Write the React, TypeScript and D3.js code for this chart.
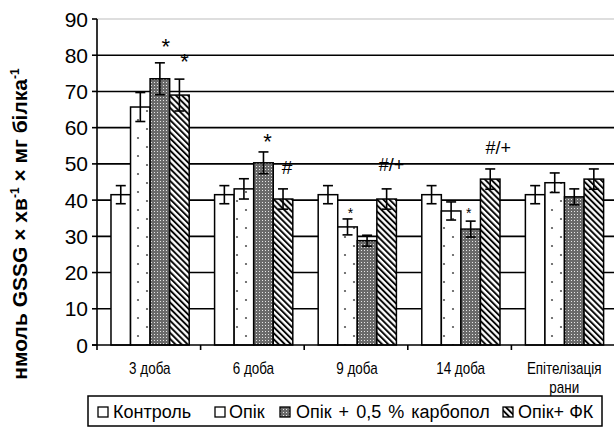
import React from "react";
import * as d3 from "d3";

const categories = ["3 доба", "6 доба", "9 доба", "14 доба", "Епітелізація рани"];
const seriesNames = ["Контроль", "Опік", "Опік + 0,5 % карбопол", "Опік+ ФК"];
const control = [41.5, 41.5, 41.5, 41.5, 41.5];
const controlErr = [2.5, 2.5, 2.5, 2.5, 2.5];
const burn = [65.7, 43.1, 32.6, 37.0, 44.8];
const burnErr = [4.0, 2.8, 2.2, 2.5, 2.7];
const carbopol = [73.5, 50.3, 28.8, 32.0, 40.9];
const carbopolErr = [4.4, 3.0, 1.5, 2.2, 2.2];
const fk = [69.0, 40.3, 40.3, 45.8, 45.8];
const fkErr = [4.4, 2.8, 2.8, 2.8, 2.8];
const yTicks = [0, 10, 20, 30, 40, 50, 60, 70, 80, 90];

// annotations: category index, series index, label
const annotations = [
  { c: 0, s: 2, t: "*", size: 22, dx: 6, dy: 21 },
  { c: 0, s: 3, t: "*", size: 22, dx: 5, dy: 22 },
  { c: 1, s: 2, t: "*", size: 22, dx: 4, dy: 15 },
  { c: 1, s: 3, t: "#", size: 19, dx: 4, dy: 22 },
  { c: 2, s: 1, t: "*", size: 14, dx: 3, dy: 9 },
  { c: 2, s: 3, t: "#/+", size: 18, dx: 5, dy: 24 },
  { c: 3, s: 2, t: "*", size: 14, dx: -2, dy: 11 },
  { c: 3, s: 3, t: "#/+", size: 18, dx: 8, dy: 21 },
];

const values = [control, burn, carbopol, fk];
const errors = [controlErr, burnErr, carbopolErr, fkErr];
const fills = ["#fff", "url(#dots)", "url(#checker)", "url(#stripes)"];

const FONT = "'Liberation Sans', Arial, sans-serif";

export default function App() {
  const W = 614, H = 428;
  const left = 97, right = 615, top = 19, bottom = 345;
  const x0 = d3.scaleBand<number>().domain(d3.range(categories.length)).range([left, right]).paddingInner(0);
  const bw = x0.bandwidth();
  const x1 = d3.scaleBand<number>().domain(d3.range(seriesNames.length)).range([bw * 0.135, bw * 0.89]).padding(0);
  const y = d3.scaleLinear().domain([0, 90]).range([bottom, top]);

  const barCx = (c: number, s: number) => (x0(c) as number) + (x1(s) as number) + x1.bandwidth() / 2;

  const legendItems = [
    { sx: 98, tx: 113, ws: 0 },
    { sx: 215, tx: 229, ws: 0 },
    { sx: 280, tx: 296, ws: 2 },
    { sx: 503, tx: 518, ws: 0 },
  ];

  return (
    <svg width={W} height={H} style={{ position: "absolute", left: 0, top: 0, background: "#fff" }} fontFamily={FONT}>
      <defs>
        <pattern id="dots" width="18" height="18" patternUnits="userSpaceOnUse">
          <rect width="18" height="18" fill="#fff" />
          <circle cx="3" cy="3" r="1.1" fill="#555" />
          <circle cx="12" cy="12" r="1.1" fill="#555" />
        </pattern>
        <pattern id="checker" width="3" height="3" patternUnits="userSpaceOnUse">
          <rect width="3" height="3" fill="#6a6a6a" />
          <rect x="1" y="1" width="1" height="1" fill="#e6e6e6" />
        </pattern>
        <pattern id="stripes" width="4.3" height="4.3" patternUnits="userSpaceOnUse" patternTransform="rotate(-45)">
          <rect width="4.3" height="4.3" fill="#fff" />
          <line x1="1" y1="0" x2="1" y2="4.3" stroke="#000" strokeWidth="1.9" />
        </pattern>
      </defs>

      {/* gridlines */}
      {yTicks.filter((t) => t > 0 && t < 90).map((t) => (
        <line key={t} x1={left} x2={W} y1={y(t)} y2={y(t)} stroke="#000" strokeWidth={1.6} />
      ))}
      <line x1={left} x2={W} y1={y(90)} y2={y(90)} stroke="#bdbdbd" strokeWidth={1.2} />

      {/* bars */}
      {categories.map((_, c) =>
        values.map((vals, s) => {
          const bx = (x0(c) as number) + (x1(s) as number);
          return (
            <rect key={`b${c}-${s}`} x={bx} y={y(vals[c])} width={x1.bandwidth()} height={y(0) - y(vals[c])}
              fill={fills[s]} stroke="#000" strokeWidth={1.5} />
          );
        })
      )}

      {/* error bars */}
      {categories.map((_, c) =>
        values.map((vals, s) => {
          const cx = barCx(c, s);
          const v = vals[c], e = errors[s][c];
          return (
            <g key={`e${c}-${s}`} stroke="#000" strokeWidth={1.6}>
              <line x1={cx} x2={cx} y1={y(v + e)} y2={y(v - e)} />
              <line x1={cx - 5} x2={cx + 5} y1={y(v + e)} y2={y(v + e)} />
              <line x1={cx - 5} x2={cx + 5} y1={y(v - e)} y2={y(v - e)} />
            </g>
          );
        })
      )}

      {/* axes */}
      <line x1={left} x2={left} y1={top} y2={bottom} stroke="#000" strokeWidth={1.6} />
      <line x1={left - 5} x2={W} y1={bottom} y2={bottom} stroke="#000" strokeWidth={1.6} />
      {yTicks.map((t) => (
        <g key={`yt${t}`}>
          <line x1={left - 5} x2={left} y1={y(t)} y2={y(t)} stroke="#000" strokeWidth={1.6} />
          <text x={left - 9} y={y(t)} dy="0.36em" textAnchor="end" fontSize={21} fill="#000">{t}</text>
        </g>
      ))}
      {d3.range(categories.length + 1).map((i) => (
        <line key={`xt${i}`} x1={left + i * bw} x2={left + i * bw} y1={bottom} y2={bottom + 5} stroke="#000" strokeWidth={1.6} />
      ))}

      {/* category labels */}
      {categories.map((cat, c) => {
        const cx = (x0(c) as number) + bw / 2 + 1;
        const parts = cat === "Епітелізація рани" ? ["Епітелізація", "рани"] : [cat];
        return (
          <g key={`cl${c}`} transform={`translate(${cx},374) scale(0.84,1)`}>
            <text x={0} y={0} textAnchor="middle" fontSize={16} fill="#000">
              {parts.map((p, i) => (
                <tspan key={i} x={0} dy={i === 0 ? 0 : 19}>{p}</tspan>
              ))}
            </text>
          </g>
        );
      })}

      {/* annotations */}
      {annotations.map((a, i) => {
        const v = values[a.s][a.c] + errors[a.s][a.c];
        const isStar = a.t === "*";
        return (
          <text key={`an${i}`} x={barCx(a.c, a.s) + a.dx} y={y(v) - a.dy + (isStar ? a.size * 0.55 : a.size * 0.36)}
            textAnchor="middle" fontSize={a.size} fill="#000">{a.t}</text>
        );
      })}

      {/* y title */}
      <text transform={`translate(27,224) rotate(-90)`} textAnchor="middle" fontSize={21} fontWeight="bold" fill="#000">
        нмоль GSSG × хв<tspan fontSize={12} dy={-8}>-1</tspan><tspan dy={8}> × мг білка</tspan><tspan fontSize={12} dy={-8}>-1</tspan>
      </text>

      {/* legend */}
      <rect x={88} y={396} width={514} height={30} fill="#fff" stroke="#000" strokeWidth={1.5} />
      {seriesNames.map((n, s) => (
        <g key={`lg${s}`}>
          <rect x={legendItems[s].sx} y={407} width={10} height={10} fill={s === 1 ? "#fff" : fills[s]} stroke="#000" strokeWidth={1.3} />
          <text x={legendItems[s].tx} y={418} fontSize={18} wordSpacing={legendItems[s].ws} fill="#000">{n}</text>
        </g>
      ))}
    </svg>
  );
}
